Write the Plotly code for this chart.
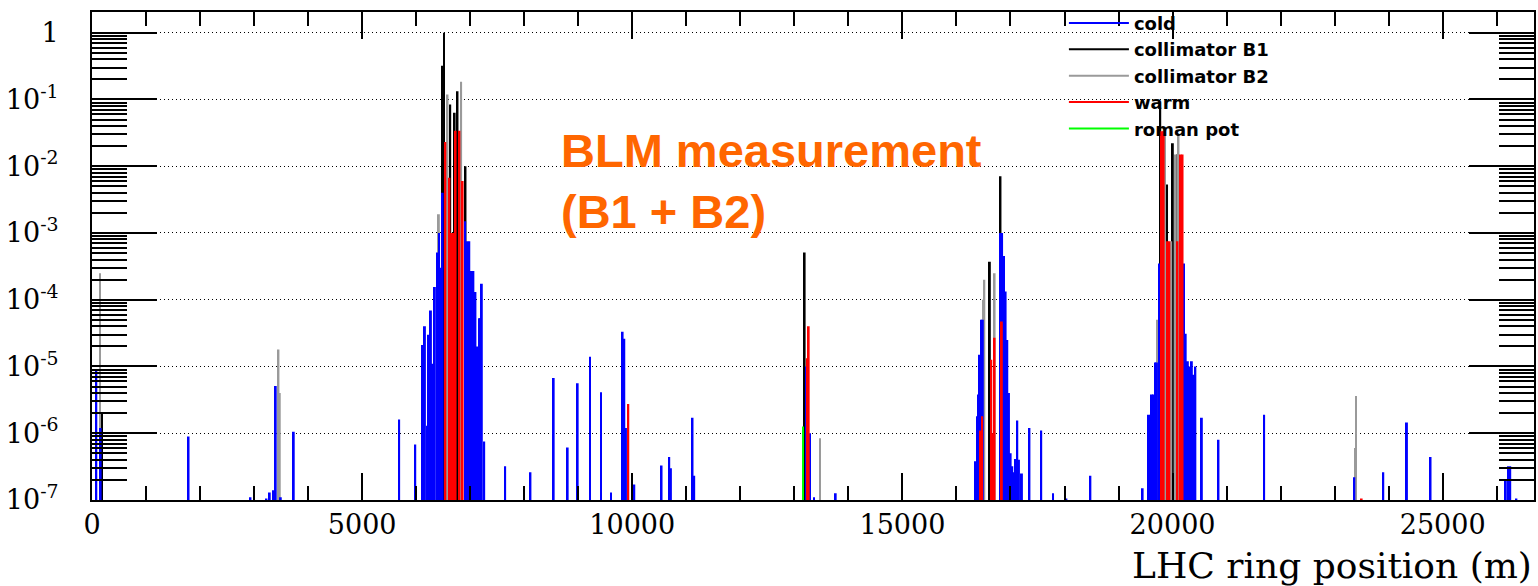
import plotly.graph_objects as go

# ---------------- data ----------------
cold_pos = [80, 160, 1787, 2933, 3229, 3290, 3364, 3401, 3494, 3734, 5685, 5983,
            6124, 6162, 6200, 6235, 6273, 6310, 6346, 6386, 6424, 6462, 6490,
            6907, 6945, 6983, 7021, 7059, 7097, 7132, 7165, 7185, 7215, 7259,
            7647, 8115, 8545, 8804, 8989, 9218, 9421, 9606, 9821, 9852, 9883,
            10037, 10542, 10684, 10715, 11115, 11146, 13218, 13290, 13364, 13765,
            16353, 16383, 16405, 16429, 16460, 16488, 16815, 16845, 16880, 16910,
            16941, 16972, 17003, 17033, 17064, 17095, 17126, 17157, 17212, 17351,
            17569, 17788, 18035, 18479, 19446,
            19551, 19588, 19618, 19649, 19680, 19711, 19760, 20212, 20243, 20283,
            20320, 20357, 20391, 20422, 20542, 20850, 21695, 23364, 23900, 24338,
            24775, 26168, 26210, 26250, 26364]
cold_val = [9.1e-6, 1.2e-6, 8.9e-7, 1.1e-7, 1.05e-7, 1.3e-7, 1.4e-7, 5.1e-6, 1.1e-7, 1.05e-6, 1.6e-6, 6.8e-7,
            2.1e-5, 4.0e-5, 1.3e-6, 3.0e-5, 6.9e-5, 1.1e-5, 1.55e-4, 5.1e-4, 1.0e-3, 3.0e-4, 4.0e-3,
            1.5e-3, 7.5e-4, 7.5e-4, 2.7e-4, 2.7e-4, 1.3e-4, 2.0e-5, 5.3e-5, 5.3e-5, 1.74e-4, 7.5e-7,
            3.2e-7, 2.6e-7, 6.7e-6, 6.1e-7, 5.6e-6, 1.4e-5, 4.1e-6, 1.3e-7, 3.3e-5, 2.6e-5, 1.2e-6,
            1.7e-7, 3.3e-7, 4.4e-7, 3.0e-7, 1.7e-6, 2.3e-7, 1.0e-5, 1.0e-6, 1.1e-7, 1.26e-7,
            3.8e-7, 1.8e-6, 3.8e-6, 1.5e-5, 5.0e-5, 5.0e-5, 1.0e-3, 1.0e-3, 4.5e-4, 1.33e-4,
            2.5e-5, 4.0e-6, 5.0e-7, 3.2e-7, 2.6e-7, 4.1e-7, 1.55e-6, 4.0e-7, 2.5e-7, 1.2e-6,
            1.1e-6, 1.26e-7, 1.05e-7, 2.3e-7, 1.5e-7,
            1.9e-6, 1.9e-6, 3.8e-6, 3.8e-6, 1.15e-5, 1.15e-5, 3.5e-4, 3.5e-4, 3.1e-5, 1.2e-5,
            1.0e-5, 1.2e-5, 7.5e-6, 1.0e-5, 1.7e-6, 8.0e-7, 1.9e-6, 2.2e-7, 2.6e-7, 1.45e-6,
            4.4e-7, 2.0e-7, 3.2e-7, 3.2e-7, 1.05e-7]

coll_b1_pos = [185, 6490, 6515, 6630, 6712, 6765, 6913, 13190, 16618, 16815,
               19772, 19898, 20005, 20085]
coll_b1_val = [2.0e-6, 0.32, 1.0, 0.084, 0.063, 0.133, 0.01, 5.1e-4, 3.7e-4, 7.1e-3,
               0.075, 5.3e-3, 0.022, 0.015]

coll_b2_pos = [148, 3451, 3475, 6420, 6580, 6832, 13475, 16492, 16516, 16706,
               19727, 19860, 19975, 20060, 20110, 23380, 23395]
coll_b2_val = [2.5e-4, 1.8e-5, 4.0e-6, 1.9e-3, 0.119, 0.184, 8.4e-7, 1.0e-4, 2.0e-4, 2.5e-4,
               5.0e-5, 0.03, 7.5e-4, 0.015, 0.03, 6.0e-7, 3.6e-6]

warm_pos = [6540, 6615, 6655, 6690, 6730, 6800, 6860, 9926, 13240, 13265,
            16451, 16475, 16645, 16668, 16706, 16840,
            19800, 19835, 19905, 19940, 20090, 20150, 20185, 23500]
warm_val = [0.023, 6.7e-3, 1.0e-3, 1.0e-3, 0.034, 0.034, 6.0e-3, 2.75e-6, 1.33e-5, 4.0e-5,
            1.1e-6, 1.8e-6, 1.26e-5, 1.0e-6, 2.7e-5, 4.7e-5,
            0.0335, 0.0335, 7.5e-4, 7.5e-4, 7.5e-4, 0.015, 0.015, 1.05e-7]

roman_pos = [13160]
roman_val = [1.26e-6]

y_major = [1e-7, 1e-6, 1e-5, 1e-4, 1e-3, 1e-2, 1e-1, 1]
y_labels = ["10<sup>-7</sup>", "10<sup>-6</sup>", "10<sup>-5</sup>", "10<sup>-4</sup>",
            "10<sup>-3</sup>", "10<sup>-2</sup>", "10<sup>-1</sup>", "1"]
x_major = [0, 5000, 10000, 15000, 20000, 25000]
x_labels = ["0", "5000", "10000", "15000", "20000", "25000"]

# ---------------- figure ----------------
BAR_W = 36
series = {
    "collimator B1": (coll_b1_pos, coll_b1_val, "#000000"),
    "collimator B2": (coll_b2_pos, coll_b2_val, "#9a9a9a"),
    "cold": (cold_pos, cold_val, "#0000ff"),
    "warm": (warm_pos, warm_val, "#ff0000"),
    "roman pot": (roman_pos, roman_val, "#00ff00"),
}
draw_order = ["collimator B1", "collimator B2", "cold", "warm", "roman pot"]
legend_order = ["cold", "collimator B1", "collimator B2", "warm", "roman pot"]

fig = go.Figure()
for name in draw_order:
    xs, ys, col = series[name]
    fig.add_trace(go.Bar(x=xs, y=ys, width=BAR_W, name=name, showlegend=False,
                         marker=dict(color=col, line=dict(width=0))))
for name in legend_order:
    col = series[name][2]
    fig.add_trace(go.Scatter(x=[None], y=[None], mode="lines", name=name,
                             line=dict(color=col, width=2)))

minor_y = [k * 10.0 ** e for e in range(-7, 1) for k in range(2, 10)]

fig.update_layout(
    width=1538, height=586,
    margin=dict(l=92, r=2, t=12, b=86),
    paper_bgcolor="white", plot_bgcolor="white",
    barmode="overlay",
    showlegend=True,
    legend=dict(x=0.674, xanchor="left", y=1.015, yanchor="top",
                bgcolor="rgba(0,0,0,0)", borderwidth=0, itemwidth=60,
                font=dict(family="DejaVu Sans", size=18, color="black", weight="bold"),
                tracegroupgap=0),
    xaxis=dict(range=[0, 26690], tickmode="array", tickvals=x_major, ticktext=x_labels,
               ticks="inside", ticklen=27, tickwidth=2, tickcolor="black",
               showline=True, linewidth=2, linecolor="black", mirror="ticks",
               showgrid=False, zeroline=False,
               minor=dict(tickmode="linear", tick0=0, dtick=1000, ticks="inside",
                          ticklen=14, tickwidth=2, tickcolor="black", showgrid=False),
               tickfont=dict(family="DejaVu Serif", size=27, color="black")),
    yaxis=dict(type="log", range=[-7, 0.31], tickmode="array", tickvals=y_major,
               ticktext=y_labels, ticks="inside", ticklen=65, tickwidth=2,
               tickcolor="black", showline=True, linewidth=2, linecolor="black",
               mirror="ticks", showgrid=True, gridcolor="black", gridwidth=1,
               griddash="1px,3px", zeroline=False, ticklabelstandoff=26,
               minor=dict(tickmode="array", tickvals=minor_y, ticks="inside",
                          ticklen=35, tickwidth=2, tickcolor="black", showgrid=False),
               tickfont=dict(family="DejaVu Serif", size=27, color="black")),
    annotations=[
        dict(text="BLM measurement<br>(B1 + B2)", xref="paper", yref="paper",
             x=0.324, y=0.775, xanchor="left", yanchor="top", align="left",
             showarrow=False,
             font=dict(family="Liberation Sans", size=47, color="#ff6600", weight="bold")),
        dict(text="LHC ring position (m)", xref="paper", yref="paper",
             x=1.0, y=-0.135, xanchor="right", yanchor="middle", showarrow=False,
             font=dict(family="DejaVu Serif", size=36, color="black")),
    ],
)

fig.write_html("out.html")
